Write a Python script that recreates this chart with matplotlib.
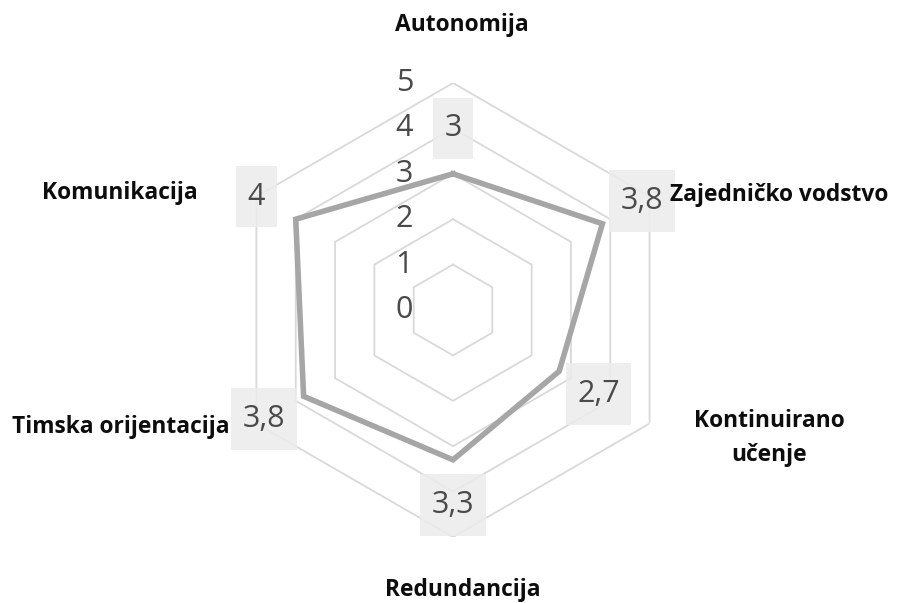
import numpy as np
import matplotlib
matplotlib.use("Agg")
import matplotlib.pyplot as plt
from matplotlib.path import Path

categories = ["Autonomija", "Zajedničko vodstvo", "Kontinuirano\nučenje",
              "Redundancija", "Timska orijentacija", "Komunikacija"]
values = [3, 3.8, 2.7, 3.3, 3.8, 4]
value_labels = ["3", "3,8", "2,7", "3,3", "3,8", "4"]
rings = [1, 2, 3, 4, 5]
tick_labels = ["0", "1", "2", "3", "4", "5"]

W, H = 899, 603
fig = plt.figure(figsize=(W / 100, H / 100), dpi=100)
cx, cy, R = 453, 310, 227
ax = fig.add_axes([(cx - R) / W, (H - cy - R) / H, 2 * R / W, 2 * R / H], projection="polar")
ax.set_theta_offset(np.pi / 2)
ax.set_theta_direction(-1)
ax.set_ylim(0, 5)
ax.grid(False)
ax.spines["polar"].set_visible(False)
ax.set_xticks([])
ax.set_yticks([])
ax.patch.set_alpha(0)

n = len(categories)
theta = np.linspace(0, 2 * np.pi, n, endpoint=False)
theta_c = np.append(theta, theta[0])

for r in rings:
    ax.plot(theta_c, [r] * (n + 1), color="#d9d9d9", lw=1.3, zorder=2)

vals_c = np.append(values, values[0])
ax.plot(theta_c, vals_c, color="#a6a6a6", lw=4.0, solid_joinstyle="miter", zorder=4)


def tall_box(x0, y0, width, height, mutation_size):
    px = 0.38 * mutation_size
    py = 0.52 * mutation_size
    x0, y0 = x0 - px, y0 - py
    x1, y1 = x0 + width + 2 * px, y0 + height + 2 * py
    return Path([(x0, y0), (x1, y0), (x1, y1), (x0, y1), (x0, y0)], closed=True)


lab_font = dict(family=["Open Sans", "DejaVu Sans"], fontsize=22, color="#4a4a4a")
for t, v, s in zip(theta, values, value_labels):
    ax.text(t, v + 1.0, s, ha="center", va="center", zorder=3,
            bbox=dict(boxstyle=tall_box, fc="#ececec", ec="none", alpha=0.85),
            **lab_font)

for r, s in enumerate(tick_labels):
    ax.annotate(s, xy=(0, r), xytext=(-35, 0), textcoords="offset points",
                ha="center", va="center", zorder=3, **lab_font)

cat_font = dict(family=["Open Sans", "DejaVu Sans"], fontsize=16.4, fontweight="bold", color="#0d0d0d")
cat_pos = [(462, 25, "center"), (670, 195, "left"), (769, 438, "center"),
           (463, 590, "center"), (230, 427, "right"), (198, 193, "right")]
for (x, y, ha), s in zip(cat_pos, categories):
    fig.text(x / W, 1 - y / H, s, ha=ha, va="center", multialignment="center",
             linespacing=1.6, **cat_font)

fig.savefig("out.png", dpi=100, facecolor="white")
